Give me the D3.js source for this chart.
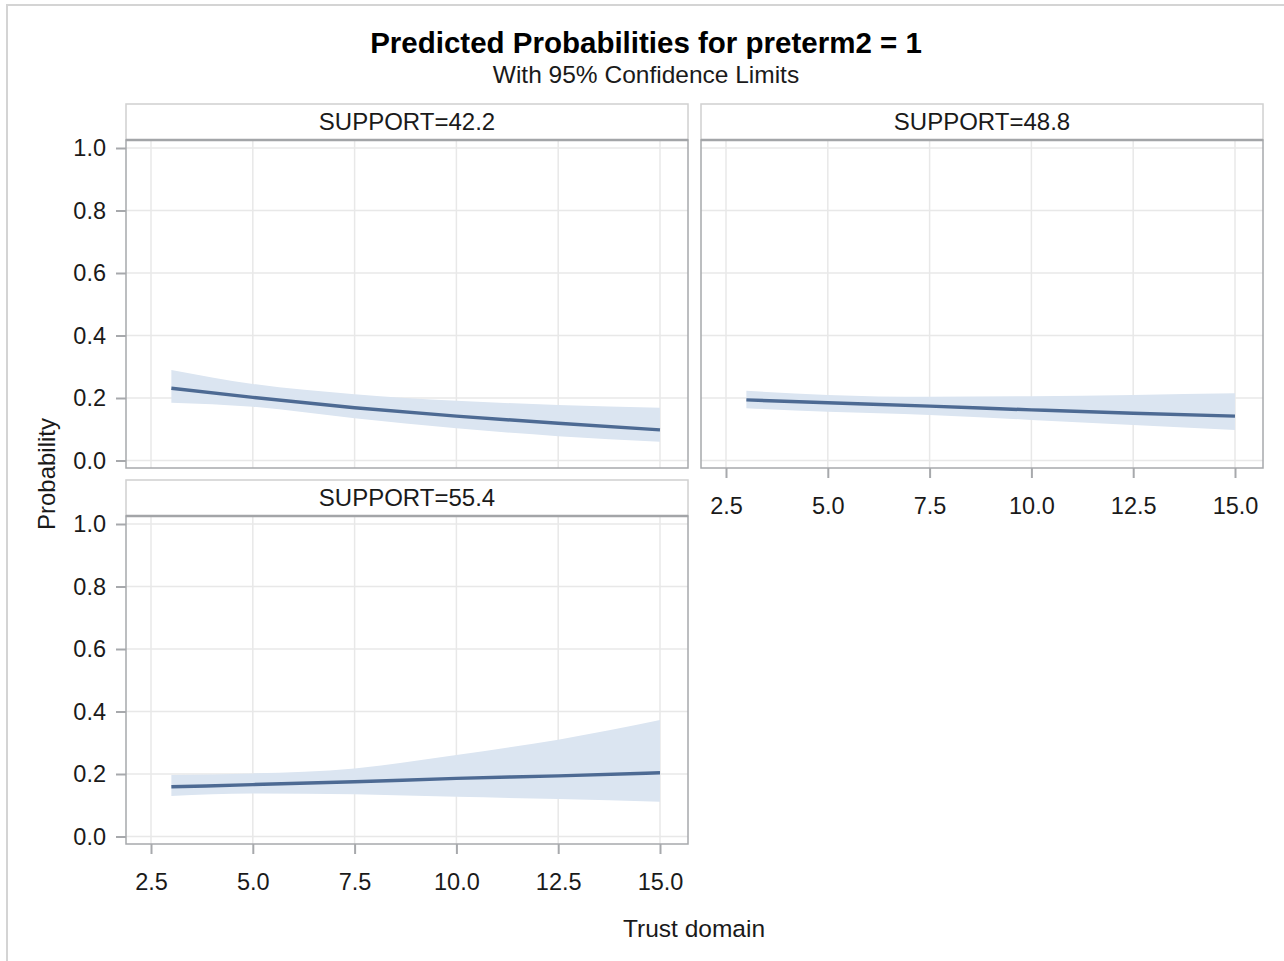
<!DOCTYPE html>
<html>
<head>
<meta charset="utf-8">
<script src="https://cdn.jsdelivr.net/npm/d3@7"></script>
<style>
  body { margin: 0; background: #fff; }
  text { font-family: "Liberation Sans", Arial, sans-serif; fill: #1a1a1a; }
</style>
</head>
<body>
<div id="chart"></div>
<script>
// values
var trustX = [3, 5, 7.5, 10, 12.5, 15];
var panelLabels = ["SUPPORT=42.2", "SUPPORT=48.8", "SUPPORT=55.4"];

var pred422 = [0.231, 0.202, 0.169, 0.142, 0.119, 0.098];
var lower422 = [0.185, 0.172, 0.135, 0.103, 0.078, 0.060];
var upper422 = [0.290, 0.245, 0.212, 0.191, 0.178, 0.169];

var pred488 = [0.194, 0.185, 0.174, 0.162, 0.151, 0.142];
var lower488 = [0.167, 0.156, 0.146, 0.130, 0.114, 0.098];
var upper488 = [0.223, 0.210, 0.204, 0.206, 0.210, 0.215];

var pred554 = [0.159, 0.166, 0.175, 0.186, 0.194, 0.204];
var lower554 = [0.130, 0.138, 0.135, 0.127, 0.120, 0.111];
var upper554 = [0.197, 0.202, 0.218, 0.261, 0.310, 0.373];

var xTicks = [2.5, 5, 7.5, 10, 12.5, 15];
var yTicks = [0, 0.2, 0.4, 0.6, 0.8, 1.0];

var panels = [
  { label: panelLabels[0], pred: pred422, lower: lower422, upper: upper422, col: 0, row: 0, xAxis: false, yAxis: true },
  { label: panelLabels[1], pred: pred488, lower: lower488, upper: upper488, col: 1, row: 0, xAxis: true, yAxis: false },
  { label: panelLabels[2], pred: pred554, lower: lower554, upper: upper554, col: 0, row: 1, xAxis: true, yAxis: true }
];

var W = 1284, H = 961;
var colLeft = [126, 701], panelW = 562;
var rowTop = [104, 480], headerH = 36, plotH = 328;

var svg = d3.select("#chart").append("svg")
  .attr("width", W)
  .attr("height", H);

// outer frame (only top/left edge visible in the picture)
svg.append("rect")
  .attr("x", 7).attr("y", 5)
  .attr("width", W + 20).attr("height", H + 20)
  .attr("fill", "#fff")
  .attr("stroke", "#d4d4d4")
  .attr("stroke-width", 2);

svg.append("text")
  .attr("x", 646).attr("y", 53)
  .attr("text-anchor", "middle")
  .style("font-size", "29.5px")
  .style("font-weight", "bold")
  .style("fill", "#000")
  .text("Predicted Probabilities for preterm2 = 1");

svg.append("text")
  .attr("x", 646).attr("y", 83)
  .attr("text-anchor", "middle")
  .style("font-size", "24.5px")
  .text("With 95% Confidence Limits");

var x = d3.scaleLinear().domain([2.5, 15]).range([25, 534]);
var y = d3.scaleLinear().domain([0, 1]).range([320.5, 8]);

var area = d3.area()
  .x(function (d) { return x(d.x); })
  .y0(function (d) { return y(d.lo); })
  .y1(function (d) { return y(d.hi); })
  .curve(d3.curveMonotoneX);

var line = d3.line()
  .x(function (d) { return x(d.x); })
  .y(function (d) { return y(d.p); })
  .curve(d3.curveMonotoneX);

panels.forEach(function (p) {
  var left = colLeft[p.col];
  var top = rowTop[p.row];

  // header strip
  svg.append("rect")
    .attr("x", left).attr("y", top)
    .attr("width", panelW).attr("height", headerH)
    .attr("fill", "#fff")
    .attr("stroke", "#d0d0d0")
    .attr("stroke-width", 1.5);
  svg.append("text")
    .attr("x", left + panelW / 2).attr("y", top + 26)
    .attr("text-anchor", "middle")
    .style("font-size", "24px")
    .text(p.label);

  var g = svg.append("g")
    .attr("transform", "translate(" + left + "," + (top + headerH) + ")");

  // grid
  g.selectAll(".vgrid").data(xTicks).enter().append("line")
    .attr("x1", function (d) { return x(d); })
    .attr("x2", function (d) { return x(d); })
    .attr("y1", 0).attr("y2", plotH)
    .attr("stroke", "#e8e8e8").attr("stroke-width", 1.5);
  g.selectAll(".hgrid").data(yTicks).enter().append("line")
    .attr("x1", 0).attr("x2", panelW)
    .attr("y1", function (d) { return y(d); })
    .attr("y2", function (d) { return y(d); })
    .attr("stroke", "#e8e8e8").attr("stroke-width", 1.5);

  var pts = trustX.map(function (v, i) {
    return { x: v, p: p.pred[i], lo: p.lower[i], hi: p.upper[i] };
  });

  g.append("path").datum(pts)
    .attr("d", area)
    .attr("fill", "#dbe5f1");
  g.append("path").datum(pts)
    .attr("d", line)
    .attr("fill", "none")
    .attr("stroke", "#4d6a93")
    .attr("stroke-width", 3.5);

  // plot frame, heavier top edge under the header
  g.append("rect")
    .attr("x", 0).attr("y", 0)
    .attr("width", panelW).attr("height", plotH)
    .attr("fill", "none")
    .attr("stroke", "#a7a9ac")
    .attr("stroke-width", 1.5);
  g.append("line")
    .attr("x1", 0).attr("x2", panelW)
    .attr("y1", 0).attr("y2", 0)
    .attr("stroke", "#a3a5a8")
    .attr("stroke-width", 2.5);

  if (p.yAxis) {
    var ya = g.append("g")
      .call(d3.axisLeft(y).tickValues(yTicks).tickFormat(d3.format(".1f")).tickSize(10).tickPadding(10));
    ya.select(".domain").remove();
    ya.selectAll("line").attr("stroke", "#a7a9ac").attr("stroke-width", 2);
    ya.selectAll("text").style("font-size", "23.5px").style("fill", "#1a1a1a").attr("font-family", null);
  }
  if (p.xAxis) {
    var xa = g.append("g")
      .attr("transform", "translate(0," + plotH + ")")
      .call(d3.axisBottom(x).tickValues(xTicks).tickFormat(d3.format(".1f")).tickSize(10).tickPadding(19));
    xa.select(".domain").remove();
    xa.selectAll("line").attr("stroke", "#a7a9ac").attr("stroke-width", 2);
    xa.selectAll("text").style("font-size", "23.5px").style("fill", "#1a1a1a").attr("font-family", null);
  }
});

svg.append("text")
  .attr("x", 694).attr("y", 937)
  .attr("text-anchor", "middle")
  .style("font-size", "24.5px")
  .text("Trust domain");

svg.append("text")
  .attr("transform", "translate(55,474) rotate(-90)")
  .attr("text-anchor", "middle")
  .style("font-size", "24px")
  .text("Probability");
</script>
</body>
</html>
